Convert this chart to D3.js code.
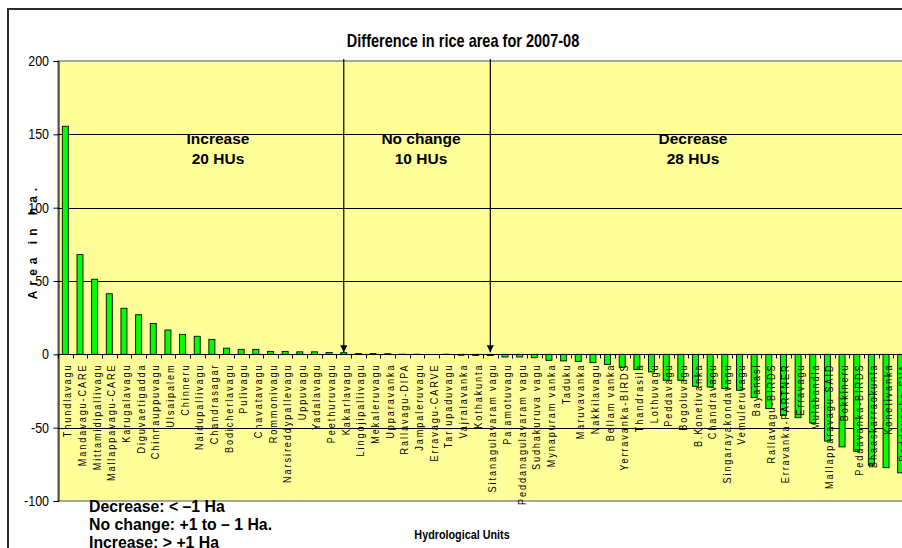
<!DOCTYPE html>
<html>
<head>
<meta charset="utf-8">
<script src="https://cdn.jsdelivr.net/npm/d3@7/dist/d3.min.js"></script>
<style>
  body { margin: 0; background: #fff; }
  svg { display: block; }
</style>
</head>
<body>
<svg id="chart" width="902" height="548"></svg>
<script>
// Hydrological units, sorted from largest gain to largest loss
const units = [
  "Thundlavagu", "Mandavagu-CARE", "Mittamidipallivagu", "Mallappavagu-CARE", "Karugalavagu",
  "Diguvaetigadda", "Chinnauppuvagu", "Ulsaipalem", "Chinneru", "Naidupallivagu",
  "Chandrasagar", "Bodicherlavagu", "Pulivagu", "Chavatavagu", "Rommonivagu",
  "Narsireddypallevagu", "Uppuvagu", "Yadalavagu", "Peethuruvagu", "Kakarlavagu",
  "Lingojipallivagu", "Mekaleruvagu", "Upparavanka", "Rallavagu-DIPA", "Jampaleruvagu",
  "Erravagu-CARVE", "Tarlupaduvagu", "Vajralavanka", "Kothakunta", "Sitanagulavaram vagu",
  "Palamotuvagu", "Peddanagulavaram vagu", "Sudhakuruva vagu", "Mynapuram vanka", "Taduku",
  "Maruvavanka", "Nakkilavagu", "Bellam vanka", "Yerravanka-BIRDS", "Thandrasila",
  "Lothuvagu", "Peddavagu", "Bogoluvagu", "B.Konetivanka", "Chandravagu",
  "Singarayakondavagu", "Vemuleruvagu", "Bayanasi", "Rallavagu-BIRDS", "Erravanka-PARTNER",
  "Erravagu", "Mulabandla", "Mallapparavagu-SAID", "Bokkineru", "Peddavanka-BIRDS",
  "Bhaaskarraokunta", "Konetivanka", "Peddavanka-SVA"
];

// Change in rice area (ha), 2007-08
const areaDiff = [
  155.5, 68.0, 51.2, 41.3, 31.4,
  27.0, 21.0, 16.6, 13.6, 12.3,
  10.2, 4.2, 3.4, 3.4, 2.0,
  2.0, 1.7, 1.7, 1.3, 1.1,
  0.5, 0.5, 0.4, 0.1, 0.1,
  0.0, 0.1, -0.6, -0.7, -0.8,
  -1.8, -1.8, -2.3, -4.1, -4.5,
  -4.8, -5.7, -6.9, -8.9, -10.4,
  -12.0, -17.7, -17.7, -21.8, -22.3,
  -23.4, -24.5, -29.5, -37.0, -41.6,
  -43.2, -46.8, -59.1, -63.1, -66.1,
  -75.6, -77.3, -80.8
];

const yTicks = [200, 150, 100, 50, 0, -50, -100];
const gridValues = [150, 100, 50, -50];

// Class summary headings and the unit each arrow points at
const classNames = ["Increase", "No change", "Decrease"];
const classCounts = ["20 HUs", "10 HUs", "28 HUs"];
const arrowUnits = ["Kakarlavagu", "Sitanagulavaram vagu"];
const legendLines = ["Decrease: < \u20131 Ha", "No change: +1 to \u2013 1 Ha.", "Increase: > +1 Ha"];

const svg = d3.select("#chart");
const W = 902, H = 548;
const plot = { left: 58, top: 61, right: 908, bottom: 501 };
const sans = "'Liberation Sans', Arial, sans-serif";
const condense = 0.83;   // horizontal squeeze for the condensed chart captions

const x = d3.scaleBand().domain(units).range([plot.left, plot.right]).paddingInner(0.59).paddingOuter(0.295);
const step = x.step();
const y = d3.scaleLinear().domain([-100, 200]).range([plot.bottom, plot.top]);

// Outer chart frame
svg.append("rect").attr("x", 8).attr("y", 9).attr("width", W + 20).attr("height", H + 20)
  .attr("fill", "#fff").attr("stroke", "#2b2b2b").attr("stroke-width", 2);

// Plot area
svg.append("rect").attr("x", plot.left).attr("y", plot.top)
  .attr("width", plot.right - plot.left).attr("height", plot.bottom - plot.top)
  .attr("fill", "#ffff99").attr("stroke", "#8a8a8a").attr("stroke-width", 1.5);

// Horizontal gridlines
svg.append("g").selectAll("line").data(gridValues).join("line")
  .attr("x1", plot.left).attr("x2", plot.right)
  .attr("y1", d => Math.round(y(d)) + 0.5).attr("y2", d => Math.round(y(d)) + 0.5)
  .attr("stroke", "#000").attr("stroke-width", 1);

// Title
svg.append("text").attr("transform", `translate(463,47) scale(${condense},1)`)
  .attr("text-anchor", "middle")
  .attr("font-family", sans).attr("font-weight", "bold").attr("font-size", 17.5)
  .text("Difference in rice area for 2007-08");

// Y axis: line and ticks from d3, labels condensed
const yAxis = d3.axisLeft(y).tickValues(yTicks).tickSize(5).tickFormat("");
const gy = svg.append("g").attr("transform", `translate(${plot.left + 0.5},0)`).call(yAxis);
gy.select(".domain").attr("stroke", "#000");
gy.selectAll(".tick line").attr("stroke", "#000");
svg.append("g").selectAll("text").data(yTicks).join("text")
  .attr("transform", d => `translate(${plot.left - 9},${y(d) + 5}) scale(${condense},1)`)
  .attr("text-anchor", "end").attr("font-family", sans).attr("font-size", 15).attr("fill", "#000")
  .text(d => d < 0 ? "-" + Math.abs(d) : d);

svg.append("text")
  .attr("transform", `translate(37,241) rotate(-90)`)
  .attr("text-anchor", "middle").attr("font-family", sans).attr("font-weight", "bold")
  .attr("font-size", 12).attr("letter-spacing", 5).text("Area in ha.");

// Bars
const bw = x.bandwidth();
svg.append("g").selectAll("rect").data(units).join("rect")
  .attr("x", d => x(d))
  .attr("y", (d, i) => y(Math.max(0, areaDiff[i])))
  .attr("width", bw)
  .attr("height", (d, i) => Math.abs(y(areaDiff[i]) - y(0)))
  .attr("fill", "#00ff00").attr("stroke", "#000").attr("stroke-width", 0.9);

// Category axis on the zero line
const zeroY = Math.round(y(0)) + 0.5;
svg.append("line").attr("x1", plot.left).attr("x2", plot.right)
  .attr("y1", zeroY).attr("y2", zeroY).attr("stroke", "#000").attr("stroke-width", 1);
svg.append("g").selectAll("line").data(d3.range(units.length + 1)).join("line")
  .attr("x1", i => Math.round(plot.left + i * step) + 0.5).attr("x2", i => Math.round(plot.left + i * step) + 0.5)
  .attr("y1", zeroY).attr("y2", zeroY + 4).attr("stroke", "#000");

// Category labels, rotated
svg.append("g").selectAll("text").data(units).join("text")
  .attr("transform", d => `translate(${x(d) + bw / 2 + 6},${zeroY + 9}) rotate(-90)`)
  .attr("text-anchor", "end").attr("font-family", sans).attr("font-size", 11)
  .attr("letter-spacing", 1.9).attr("fill", "#000")
  .attr("textLength", null)
  .each(function () {
    // condense glyphs horizontally (along the text direction) while keeping letter spacing
    d3.select(this).attr("transform", d3.select(this).attr("transform") + ` scale(0.83,1)`)
      .attr("letter-spacing", 2.3);
  })
  .text(d => d);

// Arrows marking the class boundaries
const defs = svg.append("defs");
defs.append("marker").attr("id", "arrowhead").attr("viewBox", "0 0 10 10")
  .attr("refX", 10).attr("refY", 5).attr("markerWidth", 7).attr("markerHeight", 7)
  .attr("markerUnits", "userSpaceOnUse").attr("orient", "auto")
  .append("path").attr("d", "M0,0 L10,5 L0,10 Z").attr("fill", "#000");
svg.append("g").selectAll("line").data(arrowUnits).join("line")
  .attr("x1", d => x(d) + bw / 2).attr("x2", d => x(d) + bw / 2)
  .attr("y1", plot.top - 2).attr("y2", y(0) - 2)
  .attr("stroke", "#000").attr("stroke-width", 1.2).attr("marker-end", "url(#arrowhead)");

// Class headings
const headX = [218, 421, 693];
const heads = svg.append("g").attr("font-family", sans).attr("font-weight", "bold")
  .attr("font-size", 15.5).attr("text-anchor", "middle");
classNames.forEach((c, i) => {
  heads.append("text").attr("x", headX[i]).attr("y", 144).text(c);
  heads.append("text").attr("x", headX[i]).attr("y", 164).text(classCounts[i]);
});

// X axis title
svg.append("text").attr("transform", `translate(462,539) scale(${condense},1)`)
  .attr("text-anchor", "middle")
  .attr("font-family", sans).attr("font-weight", "bold").attr("font-size", 13)
  .text("Hydrological Units");

// Class definitions
svg.append("g").selectAll("text").data(legendLines).join("text")
  .attr("x", 89).attr("y", (d, i) => 512 + i * 18)
  .attr("font-family", sans).attr("font-weight", "bold").attr("font-size", 15.8)
  .text(d => d);
</script>
</body>
</html>
